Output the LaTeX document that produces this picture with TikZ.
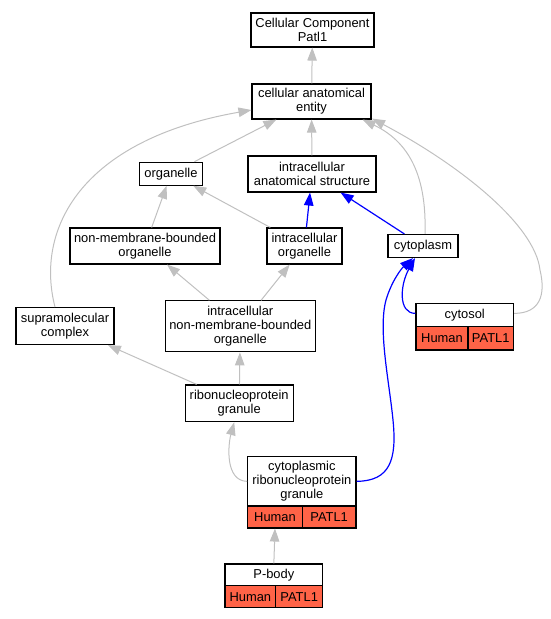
\documentclass[tikz,border=0pt]{standalone}
\usepackage{fontspec}
\setmainfont{Liberation Sans}
\usetikzlibrary{arrows.meta,calc}
\definecolor{edgegray}{HTML}{C0C0C0}
\definecolor{tomatored}{HTML}{FF6347}
\begin{document}
\begin{tikzpicture}[x=1pt,y=-1pt,
 box/.style={draw=black,line width=1.1pt,fill=white,inner sep=0pt,align=center,font=\fontsize{12.9}{14.2}\selectfont},
 gene/.style={box,fill=tomatored},
 gedge/.style={draw=edgegray,line width=1pt,-{Triangle[length=13pt,width=9.5pt]}},
 bedge/.style={draw=blue,line width=1.2pt,-{Triangle[length=13pt,width=9.5pt]}},
]
\useasboundingbox (0,0) rectangle (551,619);

\node[box,minimum width=123pt,minimum height=34pt] (cc) at (312.5,30) {Cellular Component\\Patl1};
\node[box,minimum width=119pt,minimum height=35pt] (cae) at (311.5,101.5) {cellular anatomical\\entity};
\node[box,minimum width=63pt,minimum height=23pt] (org) at (171,173.7) {organelle};
\node[box,minimum width=128pt,minimum height=36pt] (ias) at (312,174) {intracellular\\anatomical structure};
\node[box,minimum width=150pt,minimum height=36pt] (nmbo) at (145,246) {non-membrane-bounded\\organelle};
\node[box,minimum width=75pt,minimum height=36pt] (io) at (304.5,246) {intracellular\\organelle};
\node[box,minimum width=70pt,minimum height=23pt] (cyto) at (423,246) {cytoplasm};
\node[box,minimum width=98pt,minimum height=37pt] (supra) at (65,326) {supramolecular\\complex};
\node[box,minimum width=150pt,minimum height=51pt] (inmbo) at (240.3,326.3) {intracellular\\non-membrane-bounded\\organelle};
\node[box,minimum width=108pt,minimum height=36.7pt] (rg) at (239.2,403.3) {ribonucleoprotein\\granule};

% cytosol record
\node[box,minimum width=97.5pt,minimum height=23pt] (cytosol) at (464.75,314.9) {cytosol};
\node[gene,minimum width=52pt,minimum height=23.6pt] (cytosolH) at (442,338.2) {Human};
\node[gene,minimum width=45.5pt,minimum height=23.6pt] (cytosolP) at (490.75,338.2) {PATL1};

% cytoplasmic ribonucleoprotein granule record
\node[box,minimum width=108.3pt,minimum height=49.3pt] (crg) at (301.85,481.35) {cytoplasmic\\ribonucleoprotein\\granule};
\node[gene,minimum width=54.6pt,minimum height=22pt] (crgH) at (275,517) {Human};
\node[gene,minimum width=53.7pt,minimum height=22pt] (crgP) at (329.15,517) {PATL1};

% P-body record
\node[box,minimum width=97.7pt,minimum height=21.7pt] (pb) at (273.85,574.85) {P-body};
\node[gene,minimum width=50.7pt,minimum height=22pt] (pbH) at (250.35,596.7) {Human};
\node[gene,minimum width=47pt,minimum height=22pt] (pbP) at (299.2,596.7) {PATL1};

% straight gray edges
\draw[gedge] (cae) -- (cc);
\draw[gedge] (ias) -- (cae);
\draw[gedge] (org) -- (cae);
\draw[gedge] (nmbo) -- (org);
\draw[gedge] (io) -- (org);
\draw[gedge] (inmbo) -- (io);
\draw[gedge] (inmbo) -- (nmbo);
\draw[gedge] (rg) -- (supra);
\draw[gedge] (rg) -- (inmbo);
\draw[gedge] (pb.north) -- (crgH.south);

% blue straight edges
\draw[bedge] (io) -- (ias);
\draw[bedge] (cyto) -- (ias);

% curved gray edges
\draw[gedge] ($(supra.north)+(-10,0)$) .. controls (35,230) and (80,140) .. ($(cae.west)+(0,8.5)$);
\draw[gedge] ($(cyto.north)+(2,0)$) .. controls (427,170) and (405,140) .. ($(cae.south east)+(-9,0)$);
\draw[gedge] ($(cytosol.east)+(0,-1.5)$) .. controls (540,313.4) and (546,295) .. (540,270)
   .. controls (535,225) and (460,165) .. ($(cae.south east)+(0.5,-1)$);
\draw[gedge] (crg.west) .. controls (225,481) and (228,445) .. ($(rg.south)+(-5,0)$);

% curved blue edges
\draw[bedge] ($(cytosol.west)+(0,-1.5)$) .. controls (398,313.4) and (400,285) .. ($(cyto.south)+(-8,0)$);
\draw[bedge] (crg.east) .. controls (390,481) and (397,460) .. (393,420)
   .. controls (389,380) and (378,330) .. (386,300)
   .. controls (392,280) and (402,268) .. ($(cyto.south)+(-10,0)$);
\end{tikzpicture}
\end{document}
